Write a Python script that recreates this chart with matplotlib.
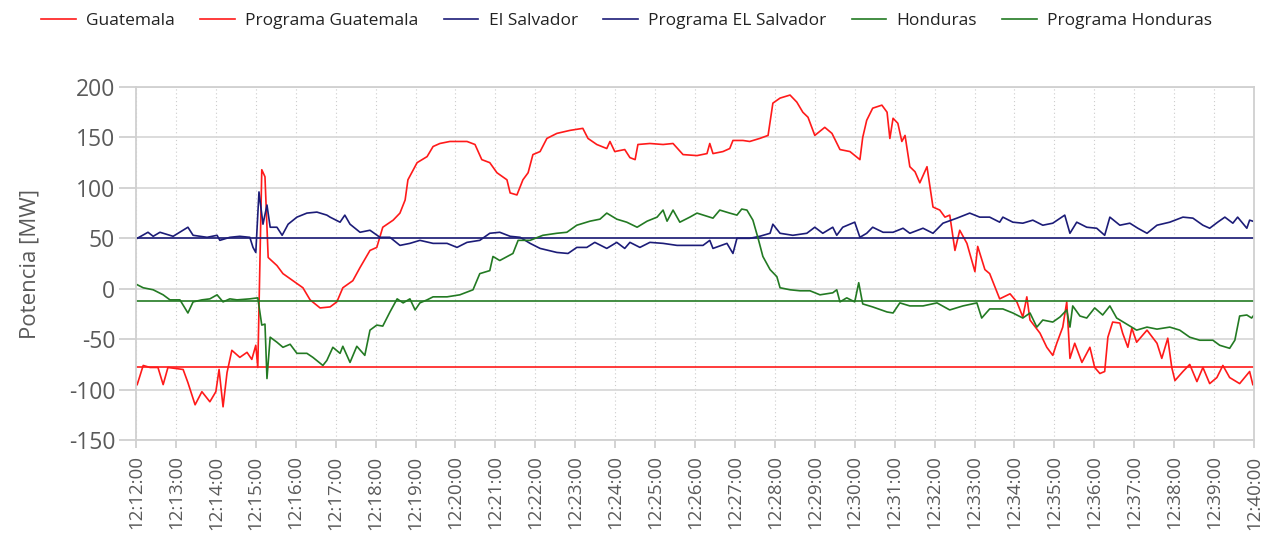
import matplotlib
matplotlib.use("Agg")
import matplotlib.pyplot as plt
import numpy as np

# minutes after 12:12:00 and MW
gua_t = [0.03, 0.18, 0.35, 0.55, 0.68, 0.80, 1.18, 1.30, 1.48, 1.65, 1.85, 2.00, 2.08, 2.18, 2.28,
         2.40, 2.60, 2.78, 2.90, 3.00, 3.05, 3.15, 3.23, 3.31, 3.53, 3.68, 3.93, 4.18, 4.36, 4.61,
         4.86, 5.03, 5.18, 5.43, 5.61, 5.86, 6.03, 6.18, 6.44, 6.61, 6.74, 6.81, 7.04, 7.29, 7.44,
         7.61, 7.86, 8.29, 8.49, 8.66, 8.86, 9.04, 9.29, 9.37, 9.54, 9.69, 9.82, 9.94, 10.12, 10.29,
         10.54, 10.87, 11.19, 11.32, 11.54, 11.79, 11.87, 11.99, 12.24, 12.37, 12.50, 12.57, 12.87,
         13.20, 13.45, 13.70, 14.05, 14.30, 14.37, 14.45, 14.70, 14.87, 14.95, 15.20, 15.37, 15.62,
         15.83, 15.95, 16.13, 16.38, 16.55, 16.70, 16.83, 17.00, 17.25, 17.43, 17.63, 17.88, 18.13,
         18.20, 18.30, 18.45, 18.68, 18.81, 18.88, 18.96, 19.08, 19.18, 19.26, 19.38, 19.51, 19.63,
         19.81, 19.96, 20.13, 20.26, 20.38, 20.51, 20.63, 20.81, 21.01, 21.08, 21.26, 21.38, 21.63,
         21.89, 22.06, 22.21, 22.31, 22.39, 22.64, 22.81, 22.96, 23.06, 23.21, 23.31, 23.39, 23.51,
         23.69, 23.89, 24.01, 24.14, 24.26, 24.34, 24.46, 24.64, 24.71, 24.84, 24.94, 25.06, 25.32,
         25.57, 25.69, 25.84, 25.94, 26.02, 26.22, 26.39, 26.57, 26.72, 26.89, 27.07, 27.22, 27.39,
         27.64, 27.89, 27.97]
gua_v = [-95, -76, -78, -78, -95, -78, -80, -93, -115, -102, -112, -102, -80, -117, -83,
         -61, -68, -63, -70, -56, -78, 118, 111, 31, 23, 15, 8, 1, -11, -19,
         -18, -13, 1, 8, 21, 38, 41, 61, 68, 75, 88, 108, 125, 131, 141,
         144, 146, 146, 143, 128, 125, 115, 108, 95, 93, 108, 115, 133, 136, 149,
         154, 157, 159, 149, 143, 139, 146, 136, 138, 130, 128, 143, 144,
         143, 144, 133, 132, 134, 144, 134, 136, 139, 147, 147, 146, 149,
         152, 184, 189, 192, 185, 175, 170, 152, 160, 154, 138, 136, 128,
         150, 167, 179, 182, 175, 149, 169, 164, 146, 152, 121, 116, 105,
         121, 81, 78, 71, 73, 38, 58, 45, 17, 42, 19, 15, -10,
         -5, -13, -28, -8, -31, -44, -58, -66, -54, -38, -13, -69, -54,
         -73, -58, -78, -84, -82, -48, -33, -34, -44, -58, -39, -53, -41,
         -54, -69, -49, -78, -91, -82, -75, -92, -78, -94, -88, -76, -88,
         -94, -82, -95]

sal_t = [0.03, 0.30, 0.43, 0.60, 0.93, 1.30, 1.43, 1.78, 2.03, 2.10, 2.35, 2.60, 2.85, 2.93, 3.00,
         3.08, 3.18, 3.28, 3.36, 3.53, 3.66, 3.81, 4.03, 4.28, 4.53, 4.78, 4.86, 5.11, 5.23, 5.36,
         5.61, 5.86, 6.11, 6.36, 6.61, 6.86, 7.11, 7.44, 7.79, 8.04, 8.29, 8.61, 8.86, 9.11, 9.37,
         9.62, 9.87, 10.12, 10.54, 10.82, 11.04, 11.29, 11.49, 11.79, 12.04, 12.24, 12.37, 12.62,
         12.87, 13.20, 13.55, 13.87, 14.20, 14.37, 14.45, 14.80, 14.95, 15.05, 15.37, 15.62, 15.88,
         15.95, 16.13, 16.45, 16.80, 17.00, 17.20, 17.45, 17.55, 17.70, 18.00, 18.13, 18.30, 18.45,
         18.71, 18.96, 19.21, 19.38, 19.71, 19.96, 20.21, 20.56, 20.88, 21.13, 21.38, 21.63, 21.71,
         21.96, 22.21, 22.46, 22.71, 22.96, 23.26, 23.39, 23.56, 23.81, 24.06, 24.26, 24.39, 24.64,
         24.89, 25.09, 25.32, 25.57, 25.89, 26.22, 26.47, 26.72, 26.89, 27.09, 27.27, 27.47, 27.59,
         27.82, 27.89, 27.97]
sal_v = [50, 56, 52, 56, 52, 61, 53, 51, 53, 48, 51, 52, 51, 41, 36,
         96, 64, 83, 61, 61, 53, 64, 71, 75, 76, 73, 71, 66, 73, 64,
         56, 58, 51, 51, 43, 45, 48, 45, 45, 41, 46, 48, 55, 56, 52,
         51, 45, 40, 36, 35, 41, 41, 46, 40, 46, 40, 46, 41,
         46, 45, 43, 43, 43, 48, 40, 45, 35, 50, 50, 52, 55,
         64, 55, 53, 55, 61, 55, 61, 53, 61, 66, 51, 55, 61,
         56, 56, 60, 55, 60, 55, 65, 70, 75, 71, 71, 66, 71,
         66, 65, 68, 63, 65, 73, 55, 66, 61, 60, 53, 71, 63,
         65, 60, 55, 63, 66, 71, 70, 63, 60, 66, 71, 65, 71,
         60, 68, 67]

hon_t = [0.03, 0.18, 0.43, 0.68, 0.85, 1.10, 1.30, 1.43, 1.65, 1.85, 2.03, 2.18, 2.35, 2.53, 2.85,
         3.05, 3.15, 3.23, 3.28, 3.36, 3.53, 3.68, 3.86, 4.03, 4.28, 4.43, 4.68, 4.78, 4.93, 5.11,
         5.18, 5.36, 5.53, 5.73, 5.86, 6.03, 6.18, 6.36, 6.54, 6.69, 6.86, 6.99, 7.11, 7.29, 7.44,
         7.79, 8.11, 8.44, 8.61, 8.86, 8.94, 9.11, 9.44, 9.57, 9.87, 10.19, 10.54, 10.79, 11.04,
         11.37, 11.62, 11.79, 12.04, 12.29, 12.55, 12.80, 13.05, 13.20, 13.30, 13.45, 13.62, 13.87,
         14.05, 14.37, 14.45, 14.62, 14.87, 15.05, 15.17, 15.30, 15.45, 15.58, 15.70, 15.88, 16.05,
         16.13, 16.38, 16.63, 16.88, 17.13, 17.45, 17.55, 17.63, 17.80, 18.00, 18.10, 18.20, 18.45,
         18.81, 18.96, 19.13, 19.38, 19.71, 20.06, 20.38, 20.71, 21.06, 21.18, 21.38, 21.71, 21.96,
         22.21, 22.39, 22.56, 22.71, 22.96, 23.14, 23.31, 23.39, 23.46, 23.64, 23.81, 24.01, 24.21,
         24.39, 24.56, 24.81, 25.06, 25.32, 25.57, 25.89, 26.14, 26.39, 26.64, 26.97, 27.14, 27.39,
         27.52, 27.64, 27.82, 27.94, 28.00]
hon_v = [4, 1, -1, -6, -11, -11, -24, -13, -11, -10, -6, -13, -10, -11, -10,
         -9, -36, -35, -89, -48, -53, -58, -55, -64, -64, -68, -76, -71, -58, -64,
         -57, -73, -57, -66, -41, -36, -37, -23, -10, -14, -10, -21, -14, -11, -8,
         -8, -6, -1, 15, 18, 32, 28, 35, 48, 48, 53, 55, 56, 63,
         67, 69, 75, 69, 66, 61, 67, 71, 78, 67, 78, 66, 71,
         75, 71, 70, 78, 75, 73, 79, 78, 68, 50, 32, 19, 12,
         1, -1, -2, -2, -6, -4, -1, -13, -9, -13, 6, -15, -18,
         -23, -24, -14, -17, -17, -14, -21, -17, -14, -29, -20, -20, -24,
         -29, -24, -38, -31, -33, -28, -21, -38, -17, -27, -29, -19, -26,
         -17, -29, -35, -41, -38, -40, -38, -41, -48, -51, -51, -56, -59,
         -51, -27, -26, -29, -26]

# scheduled (programa) values, flat over the whole window
prog_t = [0, 28]
prog_gua = [-78, -78]
prog_sal = [50, 50]
prog_hon = [-12, -12]

tick_pos = list(range(0, 29))
tick_labels = ["12:%02d:00" % (12 + m) for m in tick_pos]

red = "#ff1a1a"
navy = "#1c1c78"
green = "#237a23"
grey_txt = "#5a5a5a"

plt.rcParams['font.family'] = ['Open Sans', 'DejaVu Sans']
plt.rcParams['axes.unicode_minus'] = False

fig = plt.figure(figsize=(12.64, 5.42), dpi=100)
ax = fig.add_axes([0.1076, 0.188, 0.8845, 0.6515])

lw = 1.2
ax.plot(gua_t, gua_v, color=red, lw=lw, label="Guatemala")
ax.plot(prog_t, prog_gua, color=red, lw=lw, label="Programa Guatemala")
ax.plot(sal_t, sal_v, color=navy, lw=lw, label="El Salvador")
ax.plot(prog_t, prog_sal, color=navy, lw=lw, label="Programa EL Salvador")
ax.plot(hon_t, hon_v, color=green, lw=lw, label="Honduras")
ax.plot(prog_t, prog_hon, color=green, lw=lw, label="Programa Honduras")

ax.set_xlim(0, 28)
ax.set_ylim(-150, 200)
ax.set_yticks(np.arange(-150, 201, 50))
ax.set_xticks(tick_pos)
ax.set_xticklabels(tick_labels, rotation=90)

ax.grid(axis='y', color='#d9d9d9', linestyle='-', linewidth=1.3)
ax.grid(axis='x', color='#cccccc', linestyle=(0, (1, 2.5)), linewidth=0.8)
ax.set_axisbelow(True)
for s in ax.spines.values():
    s.set_color('#d0d0d0')
    s.set_linewidth(1.3)
ax.tick_params(axis='y', length=12, color='#d0d0d0', width=1.3, labelsize=16.5,
               labelcolor=grey_txt, pad=3)
ax.tick_params(axis='x', length=6, color='#d0d0d0', width=1.3, labelsize=13.5,
               labelcolor=grey_txt, pad=5)

ax.set_ylabel("Potencia [MW]", fontsize=16, color=grey_txt, labelpad=20)

fig.legend(loc='upper left', bbox_to_anchor=(0.02, 1.005), ncol=6, frameon=False,
           fontsize=12.5, handlelength=2.0, columnspacing=1.45, handletextpad=0.6,
           labelcolor='#222222')

plt.savefig("out.png", dpi=100)
